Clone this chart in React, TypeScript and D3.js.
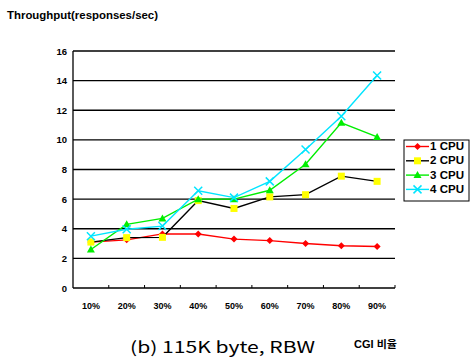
import React from "react";
import * as d3 from "d3";

const categories = ["10%", "20%", "30%", "40%", "50%", "60%", "70%", "80%", "90%"];
const cpu1 = [3.1, 3.25, 3.65, 3.65, 3.3, 3.2, 3.0, 2.85, 2.8];
const cpu2 = [3.1, 3.4, 3.42, 5.9, 5.37, 6.15, 6.3, 7.55, 7.2];
const cpu3 = [2.6, 4.3, 4.7, 6.0, 6.0, 6.6, 8.35, 11.15, 10.2];
const cpu4 = [3.5, 3.97, 4.18, 6.56, 6.1, 7.2, 9.35, 11.6, 14.35];
const yTicks = [0, 2, 4, 6, 8, 10, 12, 14, 16];
const seriesNames = ["1 CPU", "2 CPU", "3 CPU", "4 CPU"];

const W = 470, H = 358;
const left = 73, right = 395, top = 51, bottom = 288;

const series = [
  { name: seriesNames[0], values: cpu1, line: "#ff0000", fill: "#ff0000", marker: "diamond" },
  { name: seriesNames[1], values: cpu2, line: "#000000", fill: "#ffff00", marker: "square" },
  { name: seriesNames[2], values: cpu3, line: "#00ee00", fill: "#00ee00", marker: "triangle" },
  { name: seriesNames[3], values: cpu4, line: "#00e5ff", fill: "#00e5ff", marker: "x" },
];

function Marker({ type, x, y, color }: { type: string; x: number; y: number; color: string }) {
  if (type === "diamond") {
    return <path d={`M${x},${y - 3.5}L${x + 3.5},${y}L${x},${y + 3.5}L${x - 3.5},${y}Z`} fill={color} />;
  }
  if (type === "square") {
    return <rect x={x - 3.5} y={y - 3.5} width={7} height={7} fill={color} />;
  }
  if (type === "triangle") {
    return <path d={`M${x},${y - 4}L${x + 4},${y + 3}L${x - 4},${y + 3}Z`} fill={color} />;
  }
  return (
    <path d={`M${x - 4},${y - 4}L${x + 4},${y + 4}M${x - 4},${y + 4}L${x + 4},${y - 4}`} stroke={color} strokeWidth={1.5} fill="none" />
  );
}

export default function App() {
  const x = d3.scaleBand<string>().domain(categories).range([left, right]).padding(0);
  const y = d3.scaleLinear().domain([0, 16]).range([bottom, top]);
  const cx = (c: string) => (x(c) as number) + x.bandwidth() / 2;
  const line = d3
    .line<number>()
    .x((_, i) => cx(categories[i]))
    .y((d) => y(d));
  const boundaries = categories.map((c) => (x(c) as number)).concat([right]);
  const legendX = 404, legendY = 140;

  return (
    <svg width={W} height={H} style={{ position: "absolute", left: 0, top: 0, background: "#fff" }}
      fontFamily="'Liberation Sans', Arial, sans-serif">
      <text x={7} y={19} fontSize={10} fontWeight="bold" textLength={151} lengthAdjust="spacingAndGlyphs">
        Throughput(responses/sec)
      </text>
      {yTicks.filter((t) => t > 0).map((t) => (
        <line key={t} x1={left} x2={right} y1={y(t)} y2={y(t)} stroke="#000" strokeWidth={1.3} />
      ))}
      <line x1={left} x2={left} y1={top} y2={bottom} stroke="#000" strokeWidth={1.3} />
      <line x1={left} x2={right} y1={bottom} y2={bottom} stroke="#000" strokeWidth={1.3} />
      {boundaries.slice(1).map((b, i) => (
        <line key={i} x1={b} x2={b} y1={bottom} y2={bottom - 3} stroke="#000" strokeWidth={1} />
      ))}
      {yTicks.map((t) => (
        <text key={t} x={67} y={y(t) + 3.5} fontSize={9.5} fontWeight="bold" textAnchor="end">
          {t}
        </text>
      ))}
      {categories.map((c) => (
        <text key={c} x={cx(c)} y={309} fontSize={9} fontWeight="bold" textAnchor="middle">
          {c}
        </text>
      ))}
      {series.map((s) => (
        <g key={s.name}>
          <path d={line(s.values) || ""} fill="none" stroke={s.line} strokeWidth={1.4} />
          {s.values.map((v, i) => (
            <Marker key={i} type={s.marker} x={cx(categories[i])} y={y(v)} color={s.fill} />
          ))}
        </g>
      ))}
      <rect x={legendX} y={legendY} width={65} height={61} fill="#fff" stroke="#000" strokeWidth={1} />
      {series.map((s, i) => {
        const ly = 146.5 + i * 14.3;
        return (
          <g key={s.name}>
            <line x1={406} x2={429} y1={ly} y2={ly} stroke={s.line} strokeWidth={1.4} />
            <Marker type={s.marker} x={417.5} y={ly} color={s.fill} />
            <text x={430} y={ly + 3.5} fontSize={10} fontWeight="bold" textLength={34} lengthAdjust="spacingAndGlyphs">
              {s.name}
            </text>
          </g>
        );
      })}
      <text x={130} y={353} fontSize={16} fontFamily="'Noto Sans CJK KR', sans-serif" textLength={185} lengthAdjust="spacingAndGlyphs">
        (b) 115K byte, RBW
      </text>
      <text x={354} y={348} fontSize={10} fontWeight="bold" textLength={43} lengthAdjust="spacingAndGlyphs" fontFamily="'Liberation Sans', 'Noto Sans CJK KR', sans-serif">
        CGI 비율
      </text>
    </svg>
  );
}
